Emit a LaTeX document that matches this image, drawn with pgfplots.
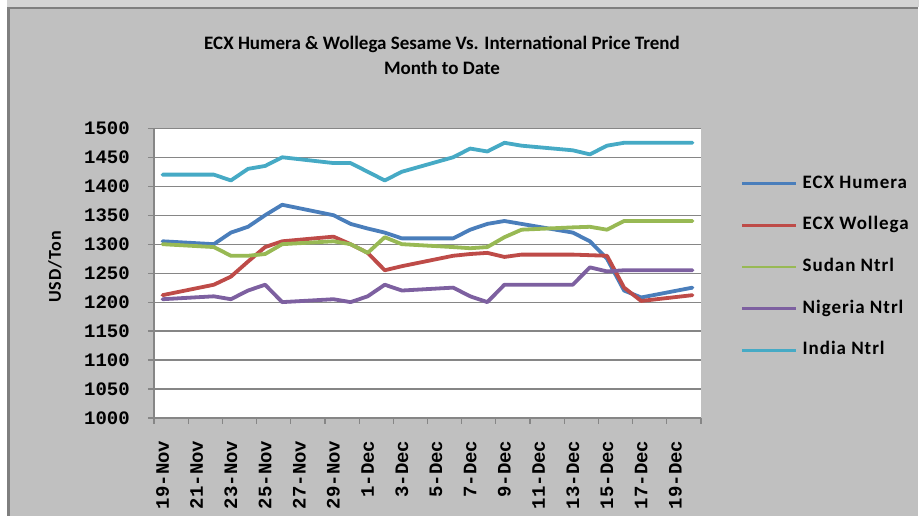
\documentclass[border=0pt]{standalone}
\usepackage{pgfplots}
\pgfplotsset{compat=1.18}
\usepackage{pgfplotstable}
\usepackage{fontspec}
\setmainfont{Carlito}
\newfontfamily\monofam{Liberation Mono}
\newfontfamily\labfam{Carlito}[LetterSpace=5]
\newcommand\tickfont{\monofam\bfseries\fontsize{19}{19}\selectfont}
\definecolor{cHum}{HTML}{4A7EBB}
\definecolor{cWol}{HTML}{BE4B48}
\definecolor{cSud}{HTML}{98B954}
\definecolor{cNig}{HTML}{7D60A0}
\definecolor{cInd}{HTML}{46AAC5}
\definecolor{chartbg}{HTML}{C0C0C0}
\definecolor{topband}{HTML}{D4D4D4}
\definecolor{bordercol}{HTML}{7F7F7F}
\definecolor{axgray}{HTML}{868686}

\pgfplotstableread{
d  humera wollega sudan nigeria india
0  1305 1212 1300 1205 1420
3  1300 1230 1295 1210 1420
4  1320 1244 1280 1205 1410
5  1330 1270 1280 1220 1430
6  1350 1295 1283 1230 1435
7  1368 1305 1300 1200 1450
10 1350 1313 1305 1205 1440
11 1335 1300 1300 1200 1440
12 1327 1285 1285 1210 1425
13 1320 1255 1312 1230 1410
14 1310 1262 1300 1220 1425
17 1310 1280 1295 1225 1450
18 1325 1283 1293 1210 1465
19 1335 1285 1295 1200 1460
20 1340 1278 1312 1230 1475
21 1335 1282 1325 1230 1470
24 1320 1282 1329 1230 1462
25 1305 1281 1330 1260 1455
26 1275 1280 1325 1253 1470
27 1220 1225 1340 1255 1475
28 1208 1202 1340 1255 1475
31 1225 1212 1340 1255 1475
}\datatab

\begin{document}
\begin{tikzpicture}
\useasboundingbox (0pt,0pt) rectangle (919pt,516pt);
\fill[white] (0pt,0pt) rectangle (919pt,516pt);
\fill[topband] (7pt,509pt) rectangle (919pt,516pt);
\fill[chartbg] (7pt,0pt) rectangle (918pt,509pt);
\draw[bordercol, line width=2.5pt] (8.25pt,0pt) -- (8.25pt,507.75pt) -- (918pt,507.75pt);
\node[font=\bfseries\fontsize{19}{21}\selectfont] at (442pt,472pt) {ECX Humera \& Wollega Sesame Vs. International Price Trend};
\node[font=\bfseries\fontsize{19}{21}\selectfont] at (442pt,448pt) {Month to Date};
\node[rotate=90, font=\labfam\bfseries\fontsize{18}{20}\selectfont] at (55pt,249pt) {USD/Ton};
\begin{axis}[
  at={(154pt,98pt)}, anchor=south west,
  scale only axis, width=547pt, height=289.7pt,
  xmin=-0.5, xmax=31.5, ymin=1000, ymax=1500,
  axis lines=left, axis line style={-, color=axgray, line width=1.2pt},
  xtick={-0.5,1.5,...,31.5}, xticklabels={},
  extra x ticks={0,2,...,30},
  extra x tick labels={19-Nov,21-Nov,23-Nov,25-Nov,27-Nov,29-Nov,1-Dec,3-Dec,5-Dec,7-Dec,9-Dec,11-Dec,13-Dec,15-Dec,17-Dec,19-Dec},
  extra x tick style={major tick length=0pt, grid=none},
  ytick={1000,1050,...,1500},
  tick align=outside, major tick length=6pt,
  tick style={color=axgray, line width=1.2pt},
  ymajorgrids, grid style={color=axgray, line width=1.2pt},
  axis background/.style={fill=white},
  /pgf/number format/assume math mode=true,
  /pgf/number format/1000 sep={},
  yticklabel style={font=\tickfont, inner sep=0pt},
  yticklabel shift=18pt,
  xticklabel style={font=\tickfont, rotate=90, anchor=east, inner sep=0pt, xshift=1.5pt},
  xticklabel shift=24pt,
  every axis plot/.append style={line width=3.8pt, line join=round, line cap=round},
  legend image code/.code={\draw[line width=2.5pt, line cap=butt] (0pt,0pt) -- (54pt,0pt);},
  legend style={draw=none, fill=none, at={(rel axis cs:1.0731,0.839)}, anchor=north west,
    inner sep=0pt, row sep=24.7pt, font=\labfam\bfseries\fontsize{19}{20}\selectfont,
    nodes={inner sep=0pt, text height=13pt, text depth=4pt},
    /tikz/every odd column/.append style={column sep=5pt}},
  legend cell align=left,
]
\addplot[cHum] table[x=d, y=humera] {\datatab};
\addlegendentry{ECX Humera}
\addplot[cWol] table[x=d, y=wollega] {\datatab};
\addlegendentry{ECX Wollega}
\addplot[cSud] table[x=d, y=sudan] {\datatab};
\addlegendentry{Sudan Ntrl}
\addplot[cNig] table[x=d, y=nigeria] {\datatab};
\addlegendentry{Nigeria Ntrl}
\addplot[cInd] table[x=d, y=india] {\datatab};
\addlegendentry{India Ntrl}
\end{axis}
\end{tikzpicture}
\end{document}
